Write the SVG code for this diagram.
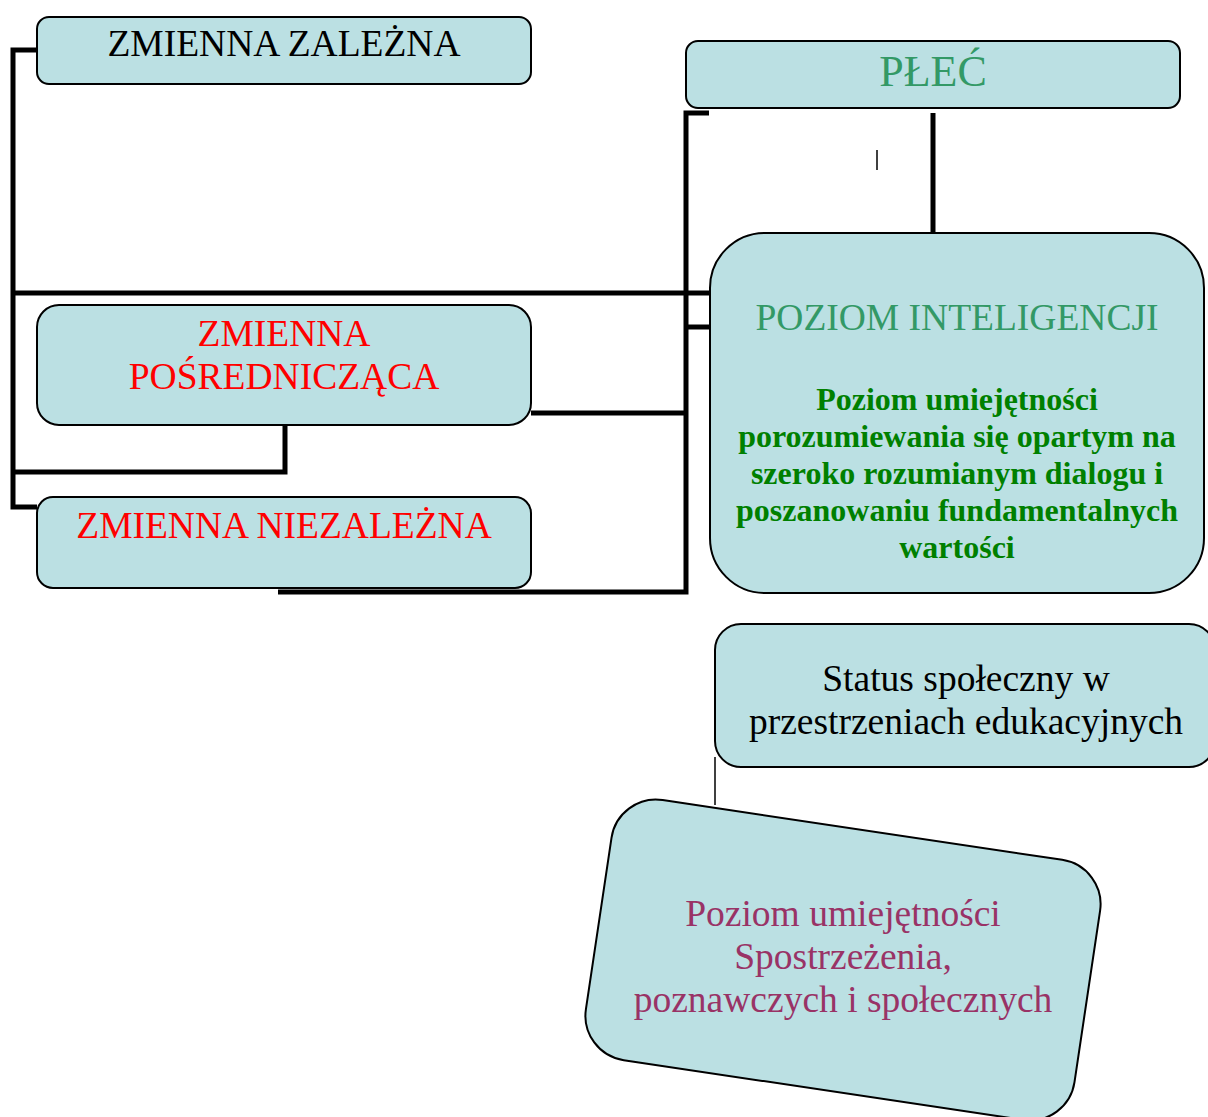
<svg xmlns="http://www.w3.org/2000/svg" width="1208" height="1117" viewBox="0 0 1208 1117">
<style>
.box{fill:#bbe0e3;stroke:#000;stroke-width:2}
.t{font-family:"Liberation Serif","Times New Roman",serif;font-size:37.5px;text-anchor:middle}
.b{font-family:"Liberation Serif","Times New Roman",serif;font-size:32px;font-weight:bold;fill:#008000;text-anchor:middle}
.c{fill:none;stroke:#000;stroke-width:5}
.thin{fill:none;stroke:#000;stroke-width:1.5}
</style>
<rect width="1208" height="1117" fill="#fff"/>
<g id="connectors">
<polyline class="c" points="37,50 13,50 13,507 37,507"/>
<line class="c" x1="11" y1="293" x2="710" y2="293"/>
<polyline class="c" points="285,425 285,472 11,472"/>
<line class="c" x1="531" y1="413" x2="688" y2="413"/>
<polyline class="c" points="709,113 686,113 686,592 278,592"/>
<line class="c" x1="686" y1="327" x2="710" y2="327"/>
<line class="c" x1="933" y1="113" x2="933" y2="233"/>
<line class="thin" x1="877" y1="150" x2="877" y2="170"/>
<line class="thin" x1="860" y1="589" x2="860" y2="594"/>
<line class="thin" x1="715" y1="757" x2="715" y2="805"/>
</g>
<g id="zalezna">
<rect class="box" x="37" y="17" width="494" height="67" rx="12"/>
<text class="t" x="284" y="56" fill="#000">ZMIENNA ZALEŻNA</text>
</g>
<g id="plec">
<rect class="box" x="686" y="41" width="494" height="67" rx="12"/>
<text class="t" x="933" y="86" fill="#339966" style="font-size:44px">PŁEĆ</text>
</g>
<g id="posrednicząca">
<rect class="box" x="37" y="305" width="494" height="120" rx="22"/>
<text class="t" x="284" y="346" fill="#ff0000">ZMIENNA</text>
<text class="t" x="284" y="389" fill="#ff0000">POŚREDNICZĄCA</text>
</g>
<g id="niezalezna">
<rect class="box" x="37" y="497" width="494" height="91" rx="16"/>
<text class="t" x="284" y="538" fill="#ff0000">ZMIENNA NIEZALEŻNA</text>
</g>
<g id="inteligencja">
<rect class="box" x="710" y="233" width="494" height="360" rx="55"/>
<text class="t" x="957" y="330" fill="#339966">POZIOM INTELIGENCJI</text>
<text class="b" x="957" y="410">Poziom umiejętności</text>
<text class="b" x="957" y="447">porozumiewania się opartym na</text>
<text class="b" x="957" y="484">szeroko rozumianym dialogu i</text>
<text class="b" x="957" y="521">poszanowaniu fundamentalnych</text>
<text class="b" x="957" y="558">wartości</text>
</g>
<g id="status">
<rect class="box" x="715" y="624" width="500" height="143" rx="26"/>
<text class="t" x="966" y="691" fill="#000">Status społeczny w</text>
<text class="t" x="966" y="734" fill="#000">przestrzeniach edukacyjnych</text>
</g>
<g id="spostrzezenia">
<rect class="box" x="-247" y="-131.5" width="494" height="263" rx="45" transform="translate(843 960) rotate(8.5)"/>
<text class="t" x="843" y="926" fill="#993366">Poziom umiejętności</text>
<text class="t" x="843" y="969" fill="#993366">Spostrzeżenia,</text>
<text class="t" x="843" y="1012" fill="#993366">poznawczych i społecznych</text>
</g>
</svg>
